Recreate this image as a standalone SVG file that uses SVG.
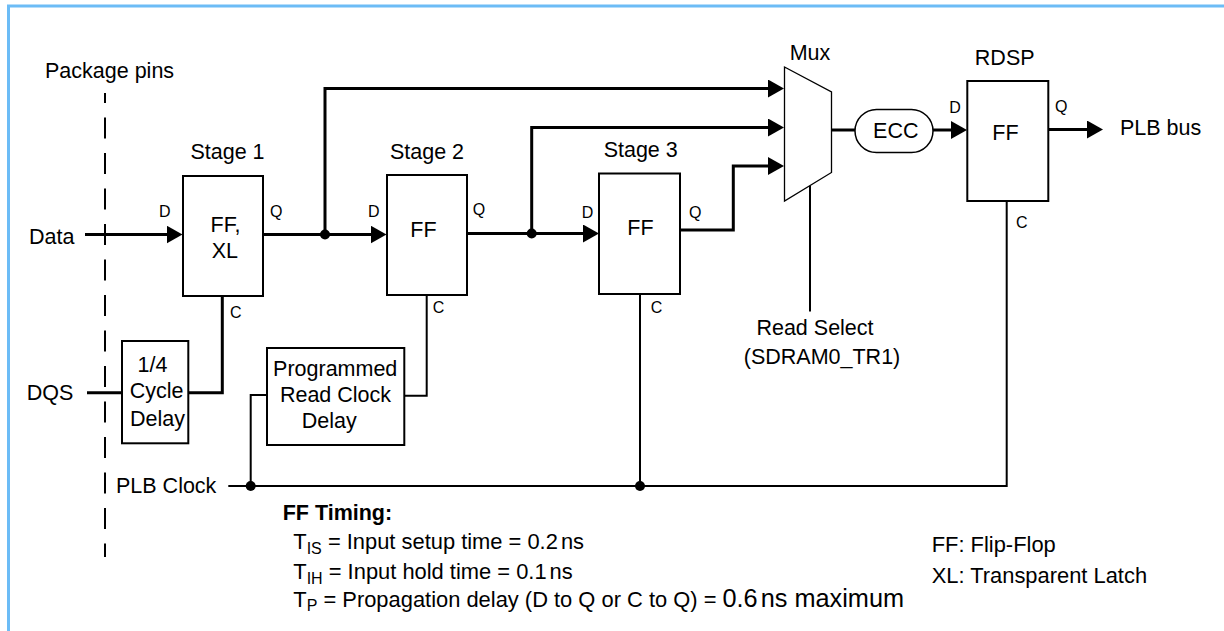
<svg xmlns="http://www.w3.org/2000/svg" width="1224" height="631" viewBox="0 0 1224 631">
<style>
text{font-family:"Liberation Sans",Arial,Helvetica,sans-serif;fill:#000}
.t{font-size:21.5px}
.tl{font-size:21.9px}
.s{font-size:16px}
.m{text-anchor:middle}
.box{fill:#fff;stroke:#000;stroke-width:2}
.thick{fill:none;stroke:#000;stroke-width:3}
.thin{fill:none;stroke:#000;stroke-width:2}
.dot{fill:#000}
</style>
<defs>
<marker id="arr" markerUnits="userSpaceOnUse" markerWidth="16" markerHeight="18" refX="3" refY="9" orient="auto" viewBox="0 0 16 18"><path d="M0,0 L16,9 L0,18 z" fill="#000"/></marker>
</defs>
<rect width="1224" height="631" fill="#fff"/>
<path d="M8.5,631 V6 H1224" fill="none" stroke="#6cbcf6" stroke-width="3"/>

<g id="package-pins">
<text class="t" x="45" y="78">Package pins</text>
<line x1="105" y1="93" x2="105" y2="557" stroke="#000" stroke-width="2" stroke-dasharray="21 14.5" stroke-dashoffset="11"/>
</g>

<g id="connectors">
<path class="thick" d="M85,234.5 H169.5" marker-end="url(#arr)"/>
<path class="thick" d="M263,234.5 H373.5" marker-end="url(#arr)"/>
<path class="thick" d="M325,234.5 V88.5 H771" marker-end="url(#arr)"/>
<path class="thick" d="M467,233.5 H586" marker-end="url(#arr)"/>
<path class="thick" d="M531.7,233.5 V127.5 H771" marker-end="url(#arr)"/>
<path class="thick" d="M680,230 H733.3 V166 H771" marker-end="url(#arr)"/>
<path class="thick" d="M831.5,130 H855"/>
<path class="thick" d="M932.7,130 H954" marker-end="url(#arr)"/>
<path class="thick" d="M1048,129.5 H1090" marker-end="url(#arr)"/>
<path class="thick" d="M87,392.7 H122"/>
<path class="thick" d="M188,392.7 H222.3 V296"/>
<path class="thin" d="M426.7,295 V395.7 H404"/>
<path class="thin" d="M266.7,395 H250.7 V486"/>
<path class="thin" d="M228.3,486 H1006.7 V201"/>
<path class="thin" d="M640,294 V486"/>
<path class="thin" d="M810,185.5 V311.5"/>
<circle class="dot" cx="325" cy="234.5" r="5"/>
<circle class="dot" cx="531.7" cy="233.5" r="5"/>
<circle class="dot" cx="250.7" cy="486" r="5"/>
<circle class="dot" cx="640" cy="486" r="5"/>
</g>

<g id="data-pin"><text class="t" x="29" y="244">Data</text></g>
<g id="dqs-pin"><text class="t" x="26.7" y="399.5">DQS</text></g>
<g id="plb-clock"><text class="t" x="116" y="493">PLB Clock</text></g>

<g id="stage1">
<text class="t m" x="227.5" y="158.5">Stage 1</text>
<rect class="box" x="183" y="176" width="80" height="120"/>
<text class="t m" x="225.5" y="231.7">FF,</text>
<text class="t m" x="224.8" y="258.3">XL</text>
<text class="s" x="159" y="217">D</text>
<text class="s" x="270" y="217">Q</text>
<text class="s" x="230" y="318">C</text>
</g>

<g id="stage2">
<text class="t m" x="427" y="159">Stage 2</text>
<rect class="box" x="387" y="175" width="80" height="120"/>
<text class="t m" x="423.5" y="236.7">FF</text>
<text class="s" x="368" y="216.7">D</text>
<text class="s" x="472.7" y="215">Q</text>
<text class="s" x="432.7" y="313">C</text>
</g>

<g id="stage3">
<text class="t m" x="640.7" y="156.7">Stage 3</text>
<rect class="box" x="599" y="173.5" width="81" height="120.5"/>
<text class="t m" x="640.5" y="235.3">FF</text>
<text class="s" x="581.7" y="218.3">D</text>
<text class="s" x="689" y="218">Q</text>
<text class="s" x="650.7" y="313.3">C</text>
</g>

<g id="mux">
<text class="t m" x="810" y="59.5">Mux</text>
<polygon points="784.5,67 831.5,92 831.5,172.5 784.5,201" fill="#fff" stroke="#000" stroke-width="1.3"/>
</g>

<g id="read-select">
<text class="t m" x="815" y="335">Read Select</text>
<text class="t m" x="822" y="363.5">(SDRAM0_TR1)</text>
</g>

<g id="ecc">
<rect x="855" y="109.5" width="78" height="43" rx="21.5" ry="21.5" fill="#fff" stroke="#000" stroke-width="1.5"/>
<text class="t m" x="895.8" y="137.7">ECC</text>
</g>

<g id="rdsp">
<text class="t m" x="1004.7" y="65">RDSP</text>
<rect class="box" x="967.3" y="81" width="81" height="120"/>
<text class="t m" x="1005.5" y="140">FF</text>
<text class="s" x="949.3" y="113.3">D</text>
<text class="s" x="1055" y="112.3">Q</text>
<text class="s" x="1016" y="228.3">C</text>
</g>

<g id="plb-bus"><text class="t" x="1120" y="135">PLB bus</text></g>

<g id="quarter-cycle-delay">
<rect class="box" x="122" y="341" width="66.3" height="102.3"/>
<text class="t m" x="152.5" y="371.7">1/4</text>
<text class="t m" x="156.7" y="398.3">Cycle</text>
<text class="t m" x="157.5" y="426">Delay</text>
</g>

<g id="programmed-read-clock-delay">
<rect class="box" x="267" y="348" width="137.3" height="97"/>
<text class="t m" x="335.2" y="376">Programmed</text>
<text class="t m" x="335.5" y="401.7">Read Clock</text>
<text class="t m" x="329.2" y="428.3">Delay</text>
</g>

<g id="ff-timing">
<text class="t" x="282.7" y="520" font-weight="bold">FF Timing:</text>
<text class="tl" x="293.3" y="548.5">T<tspan font-size="16" dy="5">IS</tspan><tspan dy="-5"> = Input setup time = 0.2</tspan><tspan dx="3">ns</tspan></text>
<text class="tl" x="293.3" y="578.5">T<tspan font-size="16" dy="5">IH</tspan><tspan dy="-5"> = Input hold time = 0.1</tspan><tspan dx="3">ns</tspan></text>
<text class="tl" x="293.3" y="606.7">T<tspan font-size="16" dy="4">P</tspan><tspan dy="-4"> = Propagation delay (D to Q or C to Q) = </tspan><tspan font-size="25.3">0.6</tspan><tspan font-size="25.3" dx="3">ns maximum</tspan></text>
</g>

<g id="legend">
<text class="tl" x="931.7" y="551.7">FF: Flip-Flop</text>
<text class="tl" x="931.7" y="583.3">XL: Transparent Latch</text>
</g>
</svg>
